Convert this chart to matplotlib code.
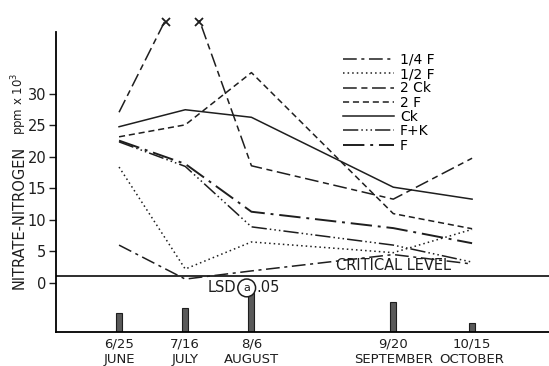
import matplotlib.pyplot as plt
import numpy as np

# sampling dates (day of year) and labels
days = [176, 197, 218, 263, 288]
date_labels = ['6/25\nJUNE', '7/16\nJULY', '8/6\nAUGUST', '9/20\nSEPTEMBER', '10/15\nOCTOBER']

# nitrate-nitrogen, ppm x 10^3
quarter_f = [6.0, 0.6, 1.9, 4.5, 3.0]
half_f = [18.4, 2.2, 6.5, 4.8, 8.5]
two_ck = [27.1, 48.0, 18.6, 13.3, 19.8]
two_f = [23.2, 25.1, 33.4, 11.0, 8.6]
ck = [24.8, 27.5, 26.3, 15.2, 13.3]
f_k = [22.4, 18.5, 8.9, 6.0, 3.3]
f = [22.6, 18.9, 11.3, 8.7, 6.3]

# LSD @ .05 bars (same units, drawn from the lower baseline)
lsd = [3.0, 3.8, 6.2, 4.8, 1.4]

critical_level = 1.1
base = -7.8
ytop = 41.8

plt.rcParams['font.family'] = 'DejaVu Sans'
fig = plt.figure(figsize=(5.49, 3.66), dpi=100)
W, H = 549, 366
ax = fig.add_axes([56 / W, (H - 332) / H, (W - 56) / W, (332 - 19.7) / H])

ink = '#1e1e1e'
styles = [
    ('1/4 F', quarter_f, (0, (9, 3, 2, 3))),
    ('1/2 F', half_f, (0, (1, 2))),
    ('2 Ck', two_ck, (0, (9, 3, 4, 3))),
    ('2 F', two_f, (0, (4, 2.5))),
    ('Ck', ck, '-'),
    ('F+K', f_k, (0, (10, 2, 1, 2, 1, 2, 1, 2))),
    ('F', f, (0, (11, 3, 1.5, 3))),
]
for name, vals, ls in styles:
    lw = 1.4 if name == 'F' else 1.1
    ax.plot(days, vals, color=ink, lw=lw, ls=ls, label=name)

# break marks where 2 Ck leaves the top of the plot
d = np.array(days, dtype=float)
v = np.array(two_ck)
for i in range(len(d) - 1):
    if (v[i] - ytop) * (v[i + 1] - ytop) < 0:
        xc = d[i] + (ytop - v[i]) / (v[i + 1] - v[i]) * (d[i + 1] - d[i])
        ax.plot(xc, ytop - 0.3, marker='x', ms=6, mew=1.3, color=ink, clip_on=False)

ax.axhline(critical_level, color=ink, lw=1.3)
ax.text(263, critical_level + 0.5, 'CRITICAL LEVEL', ha='center', va='bottom',
        fontsize=10.5, color=ink)

ax.bar(days, lsd, bottom=base, width=1.9, color='#5a5a5a', edgecolor=ink, lw=0.8)
ax.text(213.3, -0.8, 'LSD', ha='right', va='center', fontsize=10.5, color=ink)
ax.text(216.5, -0.8, 'a', ha='center', va='center', fontsize=8, color=ink,
        bbox=dict(boxstyle='circle,pad=0.35', fc='white', ec=ink, lw=1.1))
ax.text(219.6, -0.8, '.05', ha='left', va='center', fontsize=10.5, color=ink)

ax.set_xlim(156, 312.4)
ax.set_ylim(base, ytop)
ax.set_yticks([0, 5, 10, 15, 20, 25, 30])
ax.set_xticks(days)
ax.set_xticklabels(date_labels)
ax.tick_params(axis='y', direction='out', length=5, width=1, labelsize=10.5, colors=ink, pad=2)
ax.tick_params(axis='x', length=0, labelsize=9.5, colors=ink, pad=4)
for s in ['top', 'right']:
    ax.spines[s].set_visible(False)
ax.spines['left'].set_bounds(base, 39.8)
ax.spines['left'].set_linewidth(1.3)
ax.spines['bottom'].set_linewidth(1.3)

fig.text(19 / W, 1 - 217 / H, 'NITRATE-NITROGEN', rotation=90, ha='center', va='center',
         fontsize=10.5, color=ink)
fig.text(19 / W, 1 - 104 / H, 'ppm x 10$^3$', rotation=90, ha='center', va='center',
         fontsize=8.5, color=ink)

ax.legend(loc='upper left', bbox_to_anchor=(336 / W, 1 - 46 / H),
          bbox_transform=fig.transFigure, frameon=False, fontsize=10,
          handlelength=3.7, labelspacing=0.02, handletextpad=0.4, borderpad=0)

fig.savefig('out.png', dpi=100)
